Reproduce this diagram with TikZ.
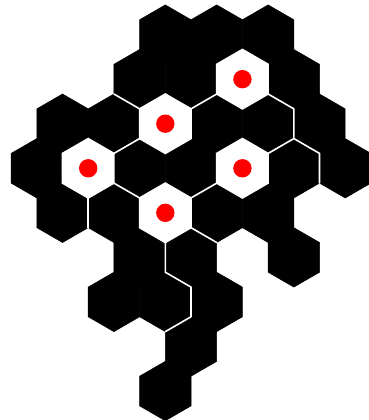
\documentclass[tikz,border=0pt]{standalone}
\usepackage{tikz}

\begin{document}
\begin{tikzpicture}[x=25.7pt,y=-14.85pt,
  cell/.style={fill=black,draw=black,line width=0.5pt},
  hole/.style={fill=white,draw=white,line width=1.6pt},
  seam/.style={draw=white,line width=1.6pt,line cap=round,line join=round},
  dot/.style={fill=red}
]
\useasboundingbox (-0.432,-2.33) rectangle (13.887,25.95);

% black cells (column/row)
\foreach \i/\r in {6/0,8/0,10/0, 5/1,7/1,11/1, 2/2,4/2,8/2,10/2,12/2,
    1/3,5/3,7/3,11/3,13/3, 2/4,4/4,8/4,10/4, 5/5,7/5,11/5,
    4/6,6/6,8/6, 7/7, 6/8}
  \filldraw[cell,shift={(\i,3*\r)}] (0,-2) -- (1,-1) -- (1,1) -- (0,2) -- (-1,1) -- (-1,-1) -- cycle;

% open cells with dots
\foreach \i/\r in {9/1,6/2,3/3,9/3,6/4}{
  \filldraw[hole,shift={(\i,3*\r)}] (0,-2) -- (1,-1) -- (1,1) -- (0,2) -- (-1,1) -- (-1,-1) -- cycle;
  \fill[dot] (\i,3*\r) circle[radius=9.2pt];
}

% white walls between cells
\draw[seam] (4,4) -- (5,5);
\draw[seam] (7,5) -- (8,4);
\draw[seam] (10,4) -- (11,5) -- (11,7) -- (10,8);
\draw[seam] (11,7) -- (12,8) -- (12,10);
\draw[seam] (4,8) -- (5,7);
\draw[seam] (4,10) -- (5,11);
\draw[seam] (3,11) -- (3,13);
\draw[seam] (7,11) -- (8,10);
\draw[seam] (7,13) -- (8,14);
\draw[seam] (6,14) -- (6,16) -- (7,17) -- (7,19) -- (6,20);
\end{tikzpicture}
\end{document}
